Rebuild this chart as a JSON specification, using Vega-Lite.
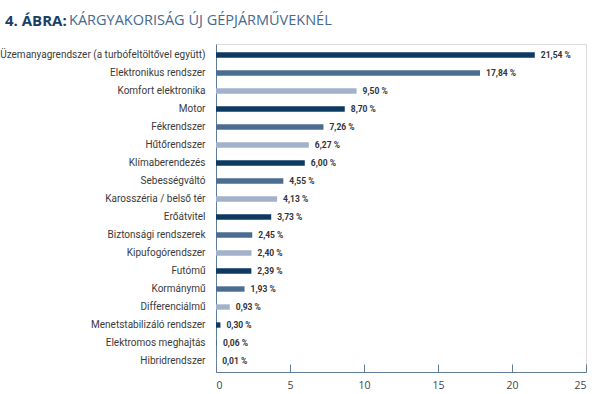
{
  "$schema": "https://vega.github.io/schema/vega-lite/v6.json",
  "width": 370,
  "height": 328,
  "autosize": {"type": "none"},
  "padding": {"left": 216, "top": 44, "right": 14, "bottom": 22},
  "background": "white",
  "title": {
    "text": "4. ÁBRA:",
    "subtitle": "\u200b\u00a0\u00a0\u00a0\u00a0\u00a0\u00a0\u00a0\u00a0\u00a0\u00a0\u00a0\u00a0\u00a0\u00a0\u00a0\u00a0\u00a0KÁRGYAKORISÁG ÚJ GÉPJÁRMŰVEKNÉL",
    "anchor": "start",
    "frame": "group",
    "dx": -211,
    "offset": 15,
    "font": "Open Sans",
    "fontSize": 15,
    "fontWeight": "bold",
    "color": "#1b3e63",
    "subtitleFont": "Open Sans",
    "subtitleFontSize": 14.5,
    "subtitleFontWeight": "normal",
    "subtitleColor": "#46698e",
    "subtitlePadding": -14.5
  },
  "data": {
    "values": [
      {"cat": "Üzemanyagrendszer (a turbófeltöltővel együtt)", "value": 21.54, "label": "21,54 %"},
      {"cat": "Elektronikus rendszer", "value": 17.84, "label": "17,84 %"},
      {"cat": "Komfort elektronika", "value": 9.50, "label": "9,50 %"},
      {"cat": "Motor", "value": 8.70, "label": "8,70 %"},
      {"cat": "Fékrendszer", "value": 7.26, "label": "7,26 %"},
      {"cat": "Hűtőrendszer", "value": 6.27, "label": "6,27 %"},
      {"cat": "Klímaberendezés", "value": 6.00, "label": "6,00 %"},
      {"cat": "Sebességváltó", "value": 4.55, "label": "4,55 %"},
      {"cat": "Karosszéria / belső tér", "value": 4.13, "label": "4,13 %"},
      {"cat": "Erőátvitel", "value": 3.73, "label": "3,73 %"},
      {"cat": "Biztonsági rendszerek", "value": 2.45, "label": "2,45 %"},
      {"cat": "Kipufogórendszer", "value": 2.40, "label": "2,40 %"},
      {"cat": "Futómű", "value": 2.39, "label": "2,39 %"},
      {"cat": "Kormánymű", "value": 1.93, "label": "1,93 %"},
      {"cat": "Differenciálmű", "value": 0.93, "label": "0,93 %"},
      {"cat": "Menetstabilizáló rendszer", "value": 0.30, "label": "0,30 %"},
      {"cat": "Elektromos meghajtás", "value": 0.06, "label": "0,06 %"},
      {"cat": "Hibridrendszer", "value": 0.01, "label": "0,01 %"}
    ]
  },
  "encoding": {
    "y": {
      "field": "cat",
      "type": "nominal",
      "sort": null,
      "scale": {"paddingInner": 0.7, "paddingOuter": 0.46},
      "axis": {
        "title": null,
        "ticks": false,
        "labelPadding": 11,
        "labelFont": "Roboto",
        "labelFontSize": 10,
        "labelColor": "#3a3a3a",
        "labelLimit": 400,
        "domainColor": "#5f7c99",
        "domainWidth": 1
      }
    },
    "x": {
      "field": "value",
      "type": "quantitative",
      "scale": {"domain": [0, 25], "nice": false},
      "axis": {
        "title": null,
        "values": [0, 5, 10, 15, 20, 25],
        "grid": false,
        "tickSize": -8,
        "labelPadding": 16,
        "tickColor": "#5f7c99",
        "domainColor": "#5f7c99",
        "labelFont": "Open Sans",
        "labelFontSize": 10.5,
        "labelColor": "#444444"
      }
    }
  },
  "layer": [
    {
      "mark": {"type": "bar"},
      "encoding": {
        "color": {
          "field": "cat",
          "type": "nominal",
          "legend": null,
          "scale": {
            "domain": ["Üzemanyagrendszer (a turbófeltöltővel együtt)", "Elektronikus rendszer", "Komfort elektronika", "Motor", "Fékrendszer", "Hűtőrendszer", "Klímaberendezés", "Sebességváltó", "Karosszéria / belső tér", "Erőátvitel", "Biztonsági rendszerek", "Kipufogórendszer", "Futómű", "Kormánymű", "Differenciálmű", "Menetstabilizáló rendszer", "Elektromos meghajtás", "Hibridrendszer"],
            "range": ["#0d3a63", "#4b6d91", "#a2b2ca", "#0d3a63", "#4b6d91", "#a2b2ca", "#0d3a63", "#4b6d91", "#a2b2ca", "#0d3a63", "#4b6d91", "#a2b2ca", "#0d3a63", "#4b6d91", "#a2b2ca", "#0d3a63", "#4b6d91", "#a2b2ca"]
          }
        }
      }
    },
    {
      "mark": {"type": "text", "align": "left", "baseline": "middle", "dx": 6, "font": "Roboto", "fontSize": 8.5, "fontWeight": "bold", "color": "#333333"},
      "encoding": {"text": {"field": "label"}}
    }
  ]
}
